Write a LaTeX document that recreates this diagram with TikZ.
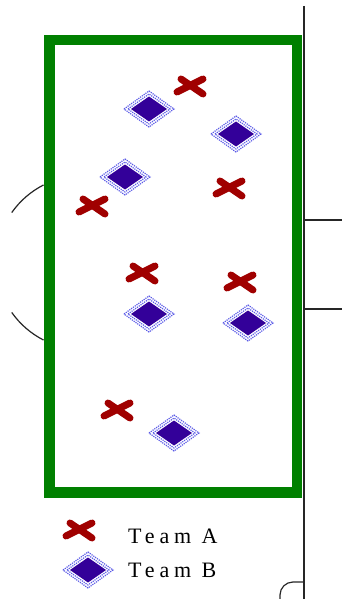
\documentclass[tikz,border=0pt]{standalone}
\usepackage{fontspec}
\setmainfont{Liberation Serif}
\newfontfamily\legendfont[LetterSpace=22]{Liberation Serif}
\usepackage{tikz}
\definecolor{boxgreen}{RGB}{0,128,0}
\definecolor{crossred}{RGB}{160,0,0}
\definecolor{diamondblue}{RGB}{51,0,153}
\definecolor{dotblue}{RGB}{90,90,230}

\begin{document}
\begin{tikzpicture}[x=1pt, y=-1pt,
          % Segno della squadra A
          crossA/.pic={
              \draw [crossred, line width=7pt, line cap=round] (-13,6) -- (13,-7);
              \draw [crossred, line width=7pt, line cap=round] (-9,-7) -- (13,8);
          },
          % Segno della squadra B
          diamondB/.pic={
              \draw [dotblue, densely dotted, line width=1.2pt] (-25,0) -- (0,-18) -- (25,0) -- (0,18) -- cycle;
              \draw [dotblue, densely dotted, line width=1.2pt] (-21,0) -- (0,-15) -- (21,0) -- (0,15) -- cycle;
              \fill [diamondblue] (-18,0) -- (0,-12.5) -- (18,0) -- (0,12.5) -- cycle;
          },
          % Linee del campo
          campo/.style={black!85, line width=1.4pt},
          legenda/.style={anchor=west, inner sep=0pt, font=\legendfont\fontsize{22}{26}\selectfont}
      ]
          \useasboundingbox (0,0) rectangle (342,599);

          % 1. Linee del campo
          \draw [campo, line width=2.2pt] (304,6) -- (304,599);
          \draw [campo] (304,220) -- (342,220);
          \draw [campo] (304,309) -- (342,309);
          \draw [campo, line width=1.2pt] (83,262.5) ++(215:87) arc (215:243:87);
          \draw [campo, line width=1.2pt] (83,262.5) ++(117:87) arc (117:145:87);
          \draw [campo, line width=1.2pt] (304,582) -- (293,582) arc (270:180:13) -- (280,599);

          % 2. Area verde
          \draw [boxgreen, line width=10.5pt] (49.5,40) rectangle (297,492.5);

          % 3. Squadra A
          \pic (a1) at (190,86) {crossA};
          \pic (a2) at (229,188) {crossA};
          \pic (a3) at (92,206) {crossA};
          \pic (a4) at (142,273) {crossA};
          \pic (a5) at (240,282) {crossA};
          \pic (a6) at (117,410) {crossA};

          % 4. Squadra B
          \pic (b1) at (149,109) {diamondB};
          \pic (b2) at (236,134) {diamondB};
          \pic (b3) at (125,177) {diamondB};
          \pic (b4) at (149,314) {diamondB};
          \pic (b5) at (248,323) {diamondB};
          \pic (b6) at (174,433) {diamondB};

          % 5. Legenda
          \pic (legA) at (79,530) {crossA};
          \pic (legB) at (88,570) {diamondB};
          \node [legenda] (testoA) at (128,536) {Team A};
          \node [legenda] (testoB) at (128,570) {Team B};

      \end{tikzpicture}
\end{document}
